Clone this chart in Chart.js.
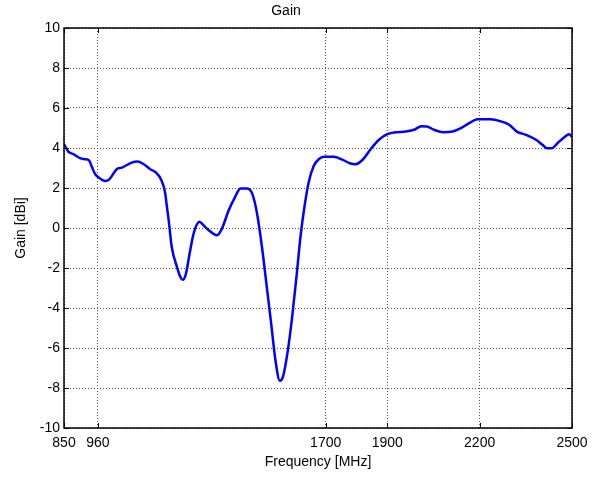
<!DOCTYPE html>
<html>
<head>
<meta charset="utf-8">
<script src="https://cdn.jsdelivr.net/npm/chart.js@4/dist/chart.umd.min.js"></script>
<style>
  html, body { margin: 0; padding: 0; background: #fff; }
  #wrap { width: 600px; height: 477px; }
</style>
</head>
<body>
<div id="wrap"><canvas id="graficoGain"></canvas></div>
<script>
// === DATI ===
const frequenze = [
  850, 864, 880, 902, 918, 932, 940, 951, 967, 983, 997, 1021, 1038, 1070, 1089, 1108,
  1130, 1149, 1166, 1178, 1184, 1190, 1200, 1217, 1228, 1236, 1246, 1258, 1271, 1290,
  1303, 1320, 1347, 1363, 1385, 1406, 1423, 1444, 1461, 1477, 1493, 1510, 1523, 1537,
  1551, 1562, 1577, 1591, 1605, 1618, 1631, 1645, 1661, 1678, 1694, 1726, 1754, 1778,
  1797, 1819, 1846, 1873, 1900, 1927, 1960, 1987, 2011, 2028, 2052, 2082, 2112, 2139,
  2166, 2193, 2236, 2269, 2296, 2321, 2350, 2383, 2404, 2418, 2434, 2453, 2475, 2491, 2500
];
const guadagno = [
  4.2, 3.82, 3.7, 3.49, 3.44, 3.37, 3.07, 2.70, 2.48, 2.35, 2.43, 2.94, 3.02, 3.27, 3.32, 3.2,
  2.94, 2.77, 2.40, 1.8, 1.1, 0.39, -0.95, -1.95, -2.45, -2.59, -2.29, -1.28, -0.28, 0.31,
  0.14, -0.11, -0.36, -0.03, 0.89, 1.56, 1.98, 1.98, 1.73, 0.73, -0.95, -3.12, -4.79, -6.64,
  -7.64, -7.39, -6.13, -4.46, -2.45, -0.45, 1.06, 2.3, 3.1, 3.45, 3.56, 3.56, 3.42, 3.24,
  3.19, 3.4, 3.94, 4.41, 4.69, 4.79, 4.82, 4.91, 5.09, 5.08, 4.91, 4.79, 4.82, 4.99,
  5.24, 5.44, 5.44, 5.33, 5.16, 4.82, 4.66, 4.41, 4.16, 3.99, 3.99, 4.24, 4.54, 4.69, 4.55
];
const tickX = [850, 960, 1700, 1900, 2200, 2500];
const tickY = [-10, -8, -6, -4, -2, 0, 2, 4, 6, 8, 10];

const FONT = "'Liberation Sans', Arial, sans-serif";

// riquadro nero + tacche interne stile MATLAB
const boxPlugin = {
  id: 'boxMatlab',
  afterDraw(chart) {
    const { ctx, chartArea: a, scales } = chart;
    const L = 5;
    ctx.save();
    ctx.strokeStyle = '#000';
    ctx.lineWidth = 1;
    ctx.beginPath();
    tickX.forEach(v => {
      const x = Math.round(scales.x.getPixelForValue(v)) + 0.5;
      ctx.moveTo(x, a.bottom); ctx.lineTo(x, a.bottom - L);
      ctx.moveTo(x, a.top); ctx.lineTo(x, a.top + L);
    });
    tickY.forEach(v => {
      const y = Math.round(scales.y.getPixelForValue(v)) + 0.5;
      ctx.moveTo(a.left, y); ctx.lineTo(a.left + L, y);
      ctx.moveTo(a.right, y); ctx.lineTo(a.right - L, y);
    });
    ctx.stroke();
    ctx.lineWidth = 1.5;
    ctx.strokeRect(a.left, a.top, a.right - a.left, a.bottom - a.top);
    ctx.restore();
  }
};

const ctx = document.getElementById('graficoGain').getContext('2d');
new Chart(ctx, {
  type: 'line',
  data: {
    datasets: [{
      label: 'Gain',
      data: frequenze.map((f, i) => ({ x: f, y: guadagno[i] })),
      borderColor: '#0000ff',
      borderWidth: 2.5,
      pointRadius: 0,
      cubicInterpolationMode: 'monotone',
      fill: false
    }]
  },
  options: {
    responsive: true,
    maintainAspectRatio: false,
    animation: false,
    layout: { padding: { left: 0, right: 28, top: 3, bottom: 0 } },
    plugins: {
      legend: { display: false },
      tooltip: { enabled: false },
      title: {
        display: true,
        text: 'Gain',
        color: '#000',
        font: { family: FONT, size: 14, weight: 'normal' },
        padding: { top: 0, bottom: 8.2 }
      }
    },
    scales: {
      x: {
        type: 'linear',
        min: 850,
        max: 2500,
        afterBuildTicks: s => { s.ticks = tickX.map(v => ({ value: v })); },
        afterFit: s => { s.height = 49; },
        ticks: {
          color: '#000',
          font: { family: FONT, size: 14 },
          padding: 7,
          maxRotation: 0,
          autoSkip: false,
          callback: v => String(v)
        },
        grid: { color: '#555', drawTicks: false },
        border: { display: false, dash: [1, 2] },
        title: {
          display: true,
          text: 'Frequency [MHz]',
          color: '#000',
          font: { family: FONT, size: 14 },
          padding: { top: 0, bottom: 6 }
        }
      },
      y: {
        min: -10,
        max: 10,
        afterBuildTicks: s => { s.ticks = tickY.map(v => ({ value: v })); },
        afterFit: s => { s.width = 64; },
        ticks: {
          color: '#000',
          font: { family: FONT, size: 14 },
          padding: 4,
          callback: v => String(v)
        },
        grid: { color: '#555', drawTicks: false },
        border: { display: false, dash: [1, 2] },
        title: {
          display: true,
          text: 'Gain [dBi]',
          color: '#000',
          font: { family: FONT, size: 14 },
          padding: { top: 12.6, bottom: 0 }
        }
      }
    }
  },
  plugins: [boxPlugin]
});
</script>
</body>
</html>
